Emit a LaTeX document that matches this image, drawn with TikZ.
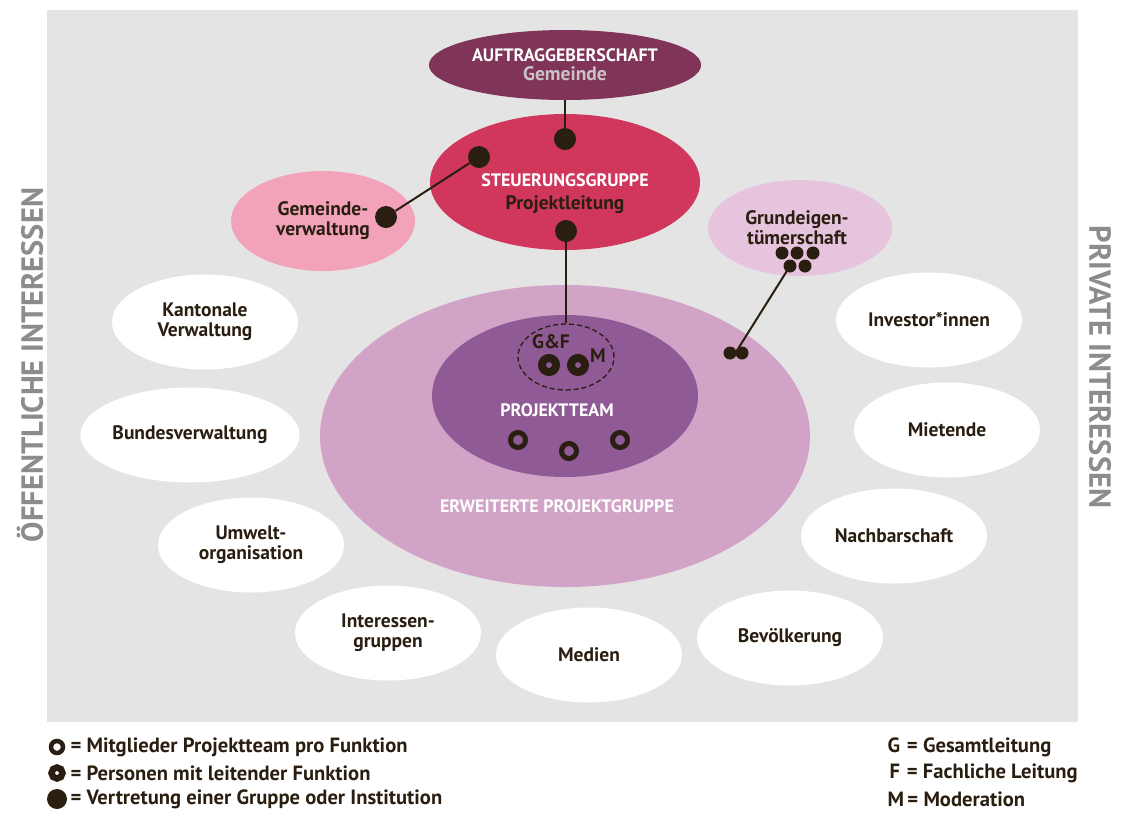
\documentclass[tikz,border=0pt]{standalone}
\usepackage{fontspec}
\setmainfont{PT Sans}
\usetikzlibrary{shapes.geometric}

\definecolor{bggrey}{HTML}{E4E4E4}
\definecolor{sidegrey}{HTML}{8C8C8C}
\definecolor{ink}{HTML}{2A1E10}
\definecolor{auftragcol}{HTML}{7F3458}
\definecolor{steuercol}{HTML}{D1375D}
\definecolor{verwcol}{HTML}{F2A3B9}
\definecolor{grundcol}{HTML}{E6C4DD}
\definecolor{erwcol}{HTML}{D1A3C6}
\definecolor{teamcol}{HTML}{8F5A95}
\definecolor{gemeindecol}{HTML}{CBC1C6}

\tikzset{
  blob/.style={ellipse, inner sep=0pt, minimum width=186pt, minimum height=95pt, fill=white},
  lab/.style={font=\bfseries\fontsize{19.5}{20}\selectfont, text=ink, align=center},
  caps/.style={font=\bfseries\fontsize{18}{19}\selectfont, text=white, align=center},
  keytext/.style={font=\bfseries\fontsize{20.6}{22}\selectfont, text=ink, anchor=west},
  bigdot/.style={circle, fill=ink, inner sep=0pt, minimum size=22pt},
  smalldot/.style={circle, fill=ink, inner sep=0pt, minimum size=13pt},
  leadring/.style={circle, draw=ink, line width=8pt, inner sep=0pt, minimum size=14pt},
  memberring/.style={circle, draw=ink, line width=5pt, inner sep=0pt, minimum size=15pt},
  link/.style={draw=ink, line width=2pt},
  side/.style={font=\bfseries\fontsize{30.5}{31}\selectfont, text=sidegrey},
}

\begin{document}
\begin{tikzpicture}[x=1pt,y=-1pt]
  \useasboundingbox (0,0) rectangle (1123,812);
  \fill[bggrey] (47,10) rectangle (1078,722);

  % side labels
  \node[side, rotate=90] (oeff) at (30,365) {ÖFFENTLICHE INTERESSEN};
  \node[side, rotate=-90] (priv) at (1100,367) {PRIVATE INTERESSEN};

  % main groups
  \node[ellipse, fill=erwcol, minimum width=490pt, minimum height=302pt] (erw) at (565,436) {};
  \node[caps] (erwlab) at (557,506) {ERWEITERTE PROJEKTGRUPPE};
  \node[ellipse, fill=teamcol, minimum width=266pt, minimum height=162pt] (team) at (565,396) {};
  \node[caps] (teamlab) at (557,410) {PROJEKTTEAM};
  \node[ellipse, draw=ink, dash pattern=on 5pt off 3pt, line width=1.3pt, minimum width=96pt, minimum height=66pt] (leitung) at (566,357) {};

  \node[ellipse, fill=auftragcol, minimum width=245pt, minimum height=70pt, caps] (auftrag) at (565,65)
    {AUFTRAGGEBERSCHAFT\\{\color{gemeindecol}\fontsize{19.5}{20}\selectfont Gemeinde}};
  \node[ellipse, fill=steuercol, minimum width=270pt, minimum height=136pt] (steuer) at (565,182) {};
  \node[caps] (steuerlab) at (565,180) {STEUERUNGSGRUPPE};
  \node[lab] (leitunglab) at (565,205) {Projektleitung};

  \node[blob, fill=verwcol, minimum width=184pt, minimum height=100pt, lab] (gemverw) at (323,221) {Gemeinde-\\verwaltung};
  \node[blob, fill=grundcol, minimum width=184pt, minimum height=96pt] (grund) at (800,228) {};
  \node[lab] (grundlab) at (797,228) {Grundeigen-\\tümerschaft};

  % public side
  \node[blob, lab] (kanton) at (205,322) {Kantonale\\Verwaltung};
  \node[blob, lab] (bund) at (190,435) {Bundesverwaltung};
  \node[blob, lab] (umwelt) at (251,545) {Umwelt-\\organisation};
  \node[blob, lab] (intgr) at (388,633) {Interessen-\\gruppen};
  \node[blob, lab] (medien) at (589,655) {Medien};
  % private side
  \node[blob, lab] (bevoelk) at (790,638) {Bevölkerung};
  \node[blob, lab] (nachbar) at (894,536) {Nachbarschaft};
  \node[blob, lab] (miet) at (947,430) {Mietende};
  \node[blob, lab] (invest) at (929,320) {Investor*innen};

  % dots
  \node[bigdot] (sgtop) at (565,139) {};
  \node[bigdot] (sgleft) at (479,157) {};
  \node[bigdot] (sgbottom) at (566,231) {};
  \node[bigdot] (verwdot) at (386,217) {};

  \node[smalldot] (g1) at (782,253) {};
  \node[smalldot] (g2) at (797,253) {};
  \node[smalldot] (g3) at (813,253) {};
  \node[smalldot] (g4) at (790,266) {};
  \node[smalldot] (g5) at (805,266) {};
  \node[smalldot] (e1) at (730,353) {};
  \node[smalldot] (e2) at (742,353) {};
  \coordinate (eline) at (736,352);

  \node[leadring] (lead1) at (549,365) {};
  \node[leadring] (lead2) at (578,365) {};
  \node[lab] (gf) at (551,342) {G\&F};
  \node[lab] (mod) at (598,356) {M};

  \node[memberring] (m1) at (518,440) {};
  \node[memberring] (m2) at (569,451) {};
  \node[memberring] (m3) at (620,440) {};

  % connectors
  \draw[link] (auftrag) -- (sgtop);
  \draw[link] (sgleft) -- (verwdot);
  \draw[link] (sgbottom) -- (leitung);
  \draw[link] (g4.center) -- (eline);

  % legend
  \node[memberring, line width=4.5pt, minimum size=12pt] (keyring) at (57,747) {};
  \node[keytext] (keyringlab) at (67,747) {= Mitglieder Projektteam pro Funktion};
  \node[leadring, line width=6.5pt, minimum size=11pt] (keylead) at (57,773) {};
  \node[keytext] (keyleadlab) at (67,773) {= Personen mit leitender Funktion};
  \node[bigdot, minimum size=20pt] (keydot) at (57,799) {};
  \node[keytext] (keydotlab) at (67,799) {= Vertretung einer Gruppe oder Institution};

  \node[keytext] (keyg) at (884,747) {G\,\,= Gesamtleitung};
  \node[keytext] (keyf) at (886,773) {F\,\,= Fachliche Leitung};
  \node[keytext] (keym) at (884,799) {M\,= Moderation};
\end{tikzpicture}
\end{document}
